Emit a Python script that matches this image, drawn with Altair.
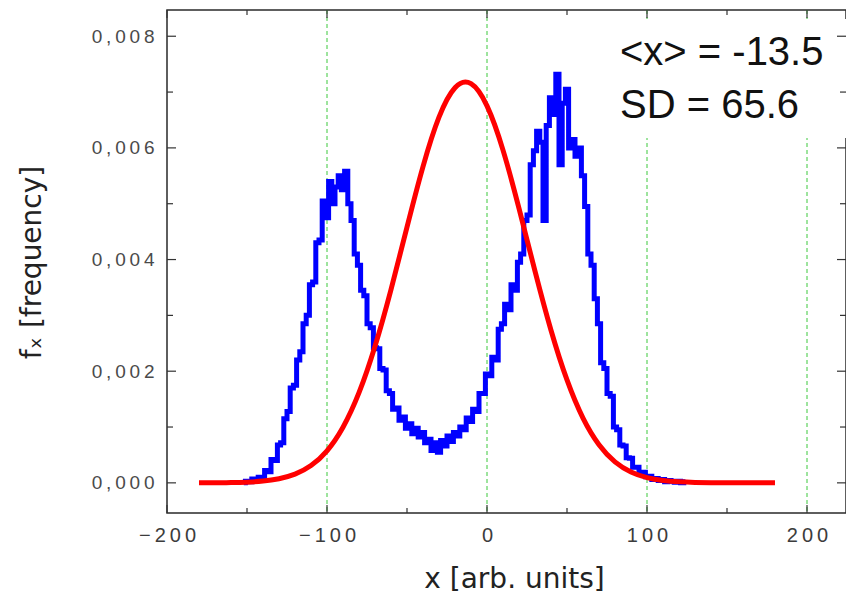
import altair as alt
import pandas as pd

# ---------------- data ----------------
blue_x = list(range(-152, 126, 2))
blue_f_milli = [
    0.00, 0.03, 0.02, 0.07, 0.04,
    0.10, 0.09, 0.22, 0.20, 0.42,
    0.40, 0.68, 0.72, 1.15, 1.28,
    1.70, 1.75, 2.20, 2.35, 2.85,
    3.00, 3.55, 3.60, 4.30, 4.35,
    5.05, 4.75, 5.40, 5.00, 5.30,
    5.50, 5.25, 5.58, 5.00, 4.70,
    4.10, 3.90, 3.45, 3.35, 2.85,
    2.78, 2.42, 2.40, 2.05, 2.02,
    1.65, 1.60, 1.32, 1.34, 1.12,
    1.18, 0.98, 1.06, 0.88, 0.98,
    0.82, 0.90, 0.72, 0.78, 0.58,
    0.72, 0.55, 0.76, 0.66, 0.84,
    0.74, 0.90, 0.84, 1.00, 0.95,
    1.16, 1.10, 1.32, 1.28, 1.60,
    1.60, 1.95, 1.92, 2.25, 2.20,
    2.75, 2.85, 3.20, 3.10, 3.55,
    3.45, 3.95, 4.10, 4.70, 4.80,
    5.70, 5.95, 6.30, 6.10, 4.70,
    6.40, 6.90, 6.60, 7.32, 5.70,
    6.80, 7.05, 6.00, 6.15, 5.85,
    6.00, 5.50, 4.95, 4.10, 3.90,
    3.30, 2.85, 2.15, 2.05, 1.60,
    1.55, 1.00, 0.95, 0.68, 0.66,
    0.45, 0.44, 0.28, 0.28, 0.17,
    0.19, 0.11, 0.12, 0.06, 0.08,
    0.04, 0.06, 0.02, 0.04, 0.03,
    0.01, 0.03, 0.00, 0.02,
]

red_x = list(range(-180, 190, 10))
red_f_milli = [
    0.000, 0.002, 0.005, 0.013, 0.032, 0.074, 0.156, 0.310, 0.575, 0.997,
    1.615, 2.446, 3.462, 4.581, 5.665, 6.550, 7.078, 7.150, 6.752, 5.960,
    4.917, 3.792, 2.734, 1.843, 1.160, 0.683, 0.376, 0.194, 0.093, 0.042,
    0.018, 0.007, 0.003, 0.001, 0.000, 0.000, 0.000,
]

x_major = [-200, -100, 0, 100, 200]
x_minor = [-150, -50, 50, 150]
x_grid = [-100, 0, 100, 200]
y_major = [0.0, 0.002, 0.004, 0.006, 0.008]
y_minor = [0.001, 0.003, 0.005, 0.007]
annotation = ["<x> = -13.5", "SD = 65.6"]

x_domain = [-200, 224.375]
y_domain = [-0.00054, 0.00847]

W, H = 679, 503

# ---------------- frames ----------------
blue = pd.DataFrame({"x": blue_x, "f": [v / 1000 for v in blue_f_milli]})
red = pd.DataFrame({"x": red_x, "f": [v / 1000 for v in red_f_milli]})
xmaj = pd.DataFrame({"x": x_major})
xmin = pd.DataFrame({"x": x_minor})
xgrid = pd.DataFrame({"x": x_grid})
ymaj = pd.DataFrame({"f": y_major})
ymin = pd.DataFrame({"f": y_minor})
one = pd.DataFrame({"a": [0]})

xs = alt.Scale(domain=x_domain, nice=False, zero=False)
ys = alt.Scale(domain=y_domain, nice=False, zero=False)

thin = "\u2009"
x_axis = alt.Axis(
    values=x_major, domain=False, ticks=False, grid=False,
    labelFont="Liberation Sans", labelFontSize=20, labelColor="#3c3c3c",
    labelPadding=12, labelFlush=False, labelOverlap=False,
    labelExpr="join(split(datum.label, ''), '" + thin + "')",
    title="x [arb. units]", titleFont="DejaVu Sans", titleFontSize=28,
    titleFontWeight="normal", titleColor="#222222",
    titleX=347, titleY=74, titleBaseline="alphabetic", titleAlign="center",
)
y_axis = alt.Axis(
    values=y_major, domain=False, ticks=False, grid=False,
    labelFont="Liberation Sans", labelFontSize=19, labelColor="#4a4a4a",
    labelPadding=13, labelOverlap=False,
    labelExpr="join(split(replace(format(datum.value, '.3f'), '.', ','), ''), '" + thin + "')",
    title="fₓ [frequency]", titleFont="DejaVu Sans", titleFontSize=28,
    titleFontWeight="normal", titleColor="#222222",
    titleX=-127, titleY=252, titleAngle=270, titleBaseline="alphabetic",
    titleAlign="center",
)

X = alt.X("x:Q", scale=xs, axis=x_axis)
Y = alt.Y("f:Q", scale=ys, axis=y_axis)

grid = alt.Chart(xgrid).mark_rule(
    color="#3cc83c", strokeWidth=1, strokeDash=[4, 3]
).encode(x=X, y=alt.value(0), y2=alt.value(H))

box = alt.Chart(one).mark_rect(color="white").encode(
    x=alt.value(433), x2=alt.value(W), y=alt.value(9), y2=alt.value(128)
)

blue_line = alt.Chart(blue).mark_line(
    color="#0000ff", strokeWidth=5, interpolate="step", clip=True
).encode(x=X, y=Y)

red_line = alt.Chart(red).mark_line(
    color="#ff0000", strokeWidth=5, interpolate="natural", clip=True
).encode(x=X, y=Y)

tick_color = "#333333"


def yticks(df, x0, x1):
    return alt.Chart(df).mark_rule(color=tick_color, strokeWidth=1.2).encode(
        y=Y, x=alt.value(x0), x2=alt.value(x1)
    )


def xticks(df, y0, y1):
    return alt.Chart(df).mark_rule(color=tick_color, strokeWidth=1.2).encode(
        x=X, y=alt.value(y0), y2=alt.value(y1)
    )


ticks = [
    yticks(ymaj, 0, 9), yticks(ymin, 0, 6),
    yticks(ymaj, W - 9, W), yticks(ymin, W - 6, W),
    xticks(xmaj, H, H - 8), xticks(xmin, H, H - 5),
    xticks(xmaj, 0, 8), xticks(xmin, 0, 5),
]

texts = [
    alt.Chart(one).mark_text(
        align="left", baseline="alphabetic", font="Liberation Sans",
        fontSize=40, color="#111111"
    ).encode(x=alt.value(453), y=alt.value(55 + i * 53), text=alt.value(t))
    for i, t in enumerate(annotation)
]

chart = alt.layer(grid, box, blue_line, red_line, *ticks, *texts).properties(
    width=W, height=H,
    autosize=alt.AutoSizeParams(type="none"),
    padding={"left": 167, "top": 10, "right": 0, "bottom": 88},
    background="white",
).configure_view(stroke="#2a2a2a", strokeWidth=1.5)

chart.save("out.html", embed_options={"renderer": "svg", "actions": False})
